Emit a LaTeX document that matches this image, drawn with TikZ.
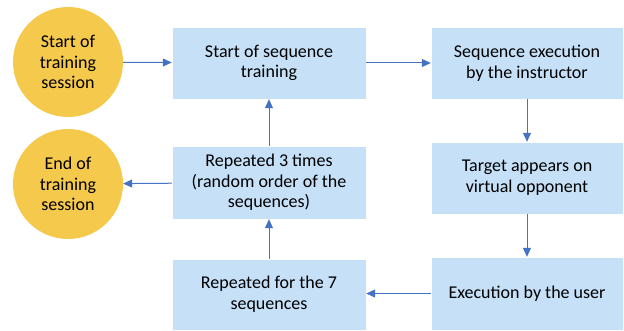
\documentclass[tikz,border=0pt]{standalone}
\usepackage{fontspec}
\setmainfont{Carlito}
\usetikzlibrary{arrows.meta}

\definecolor{gold}{HTML}{F5C94C}
\definecolor{paleblue}{HTML}{C5E0F7}
\definecolor{linkblue}{HTML}{4472C4}

\begin{document}
\begin{tikzpicture}[
            x = 1pt, y = 1pt,
            font = \fontsize{18}{20.7}\selectfont,
            session/.style = {
                circle, fill = gold,
                align = center,
                minimum size = 110pt,
                inner sep = 0pt,
            },
            stage/.style = {
                rectangle, fill = paleblue,
                draw = white, line width = 0.4pt,
                align = center,
                minimum width = 194pt,
                minimum height = 72pt,
                inner sep = 2pt,
            },
            link/.style = {
                draw = linkblue, line width = 1pt,
                -{Triangle[length = 9pt, width = 8pt]},
            },
        ]
        \useasboundingbox (0,0) rectangle (624,330);

        % Sessies
        \node[session] (start_session) at (68,268) {Start of\\training\\session};
        \node[session] (end_session) at (68,146) {End of\\training\\session};

        % Stappen
        \node[stage] (seq_start) at (269,267) {Start of sequence\\training};
        \node[stage, minimum width = 192pt] (instructor) at (527,267) {Sequence execution\\by the instructor};
        \node[stage, minimum width = 192pt] (target) at (527,152) {Target appears on\\virtual opponent};
        \node[stage, minimum height = 73pt] (repeat_three) at (269,147.5) {Repeated 3 times\\(random order of the\\sequences)};
        \node[stage, minimum height = 71pt] (repeat_seven) at (269,35.5) {Repeated for the 7\\sequences};
        \node[stage, minimum width = 192pt, minimum height = 73pt] (user) at (527,36.5) {Execution by the user};

        % Overgangen
        \draw[link] (start_session) -- (seq_start);
        \draw[link] (seq_start) -- (instructor);
        \draw[link] (instructor) -- (target);
        \draw[link] (target) -- (user);
        \draw[link] (user) -- (user -| repeat_seven.east);
        \draw[link] (repeat_seven) -- (repeat_three);
        \draw[link] (repeat_three) -- (seq_start);
        \draw[link] (repeat_three) -- (end_session);
    \end{tikzpicture}
\end{document}
